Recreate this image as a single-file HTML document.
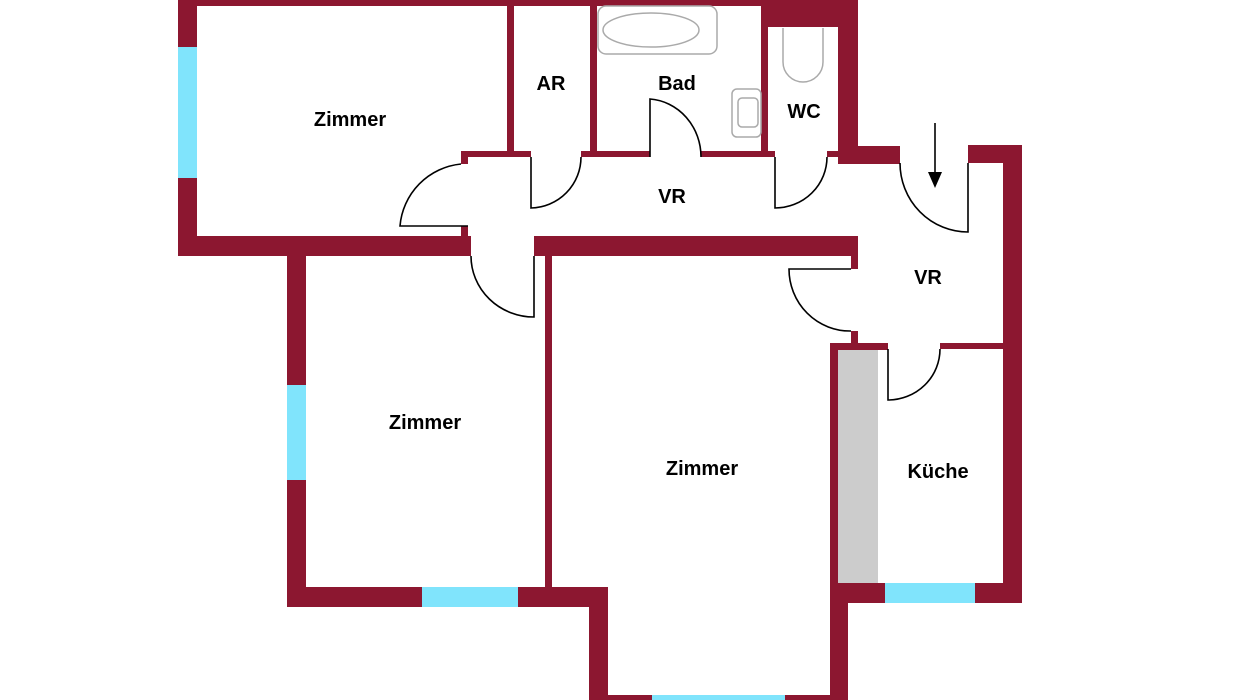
<!DOCTYPE html>
<html><head><meta charset="utf-8"><style>
html,body{margin:0;padding:0;background:#fff;}
svg{display:block;}
text{font-family:"Liberation Sans",sans-serif;font-weight:bold;font-size:20px;fill:#000;text-anchor:middle;}
</style></head><body>
<svg width="1236" height="700" viewBox="0 0 1236 700" xmlns="http://www.w3.org/2000/svg">
<g fill="#8c1730">
<!-- top -->
<rect x="178" y="0" width="680" height="6"/>
<rect x="761" y="0" width="97" height="27"/>
<rect x="838" y="0" width="20" height="164"/>
<rect x="838" y="146" width="62" height="18"/>
<!-- zimmer1 -->
<rect x="178" y="0" width="19" height="256"/>
<rect x="178" y="236" width="293" height="20"/>
<rect x="507" y="0" width="7" height="157"/>
<rect x="590" y="0" width="7" height="157"/>
<rect x="761" y="0" width="7" height="157"/>
<!-- corridor top wall -->
<rect x="461" y="151" width="70" height="6"/>
<rect x="461" y="151" width="7" height="13"/>
<rect x="461" y="226" width="7" height="12"/>
<rect x="581" y="151" width="69" height="6"/>
<rect x="701" y="151" width="74" height="6"/>
<rect x="827" y="151" width="13" height="6"/>
<!-- mid wall -->
<rect x="534" y="236" width="324" height="20"/>
<rect x="851" y="236" width="7" height="33"/>
<rect x="851" y="331" width="7" height="14"/>
<!-- right -->
<rect x="968" y="145" width="54" height="18"/>
<rect x="1003" y="145" width="19" height="458"/>
<!-- zimmer2 -->
<rect x="287" y="256" width="19" height="351"/>
<rect x="287" y="587" width="321" height="20"/>
<rect x="545" y="256" width="7" height="333"/>
<rect x="589" y="587" width="19" height="113"/>
<rect x="589" y="695" width="259" height="5"/>
<!-- kitchen -->
<rect x="830" y="343" width="58" height="7"/>
<rect x="940" y="343" width="63" height="6"/>
<rect x="830" y="343" width="8" height="260"/>
<rect x="830" y="583" width="18" height="117"/>
<rect x="830" y="583" width="192" height="20"/>
</g>
<g fill="#80e4fc">
<rect x="178" y="47" width="19" height="131"/>
<rect x="287" y="385" width="19" height="95"/>
<rect x="422" y="587" width="96" height="20"/>
<rect x="652" y="695" width="133" height="5"/>
<rect x="885" y="583" width="90" height="20"/>
</g>
<rect x="838" y="350" width="40" height="233" fill="#cccccc"/>
<!-- fixtures -->
<g fill="none" stroke="#aaa" stroke-width="1.5">
<rect x="598" y="6" width="119" height="48" rx="8"/>
<ellipse cx="651" cy="30" rx="48" ry="17"/>
<rect x="732" y="89" width="29" height="48" rx="5"/>
<rect x="738" y="98" width="20" height="29" rx="4"/>
<path d="M783 28 V62 A20 20 0 0 0 823 62 V28"/>
</g>
<!-- doors -->
<g fill="none" stroke="#000" stroke-width="1.6">
<path d="M468 226 H400 A68 68 0 0 1 461 164"/>
<path d="M531 157 V208 A51 51 0 0 0 581 157"/>
<path d="M650 157 V99 A55 58 0 0 1 701 157"/>
<path d="M775 157 V208 A52 51 0 0 0 827 157"/>
<path d="M968 163 V232 A68 69 0 0 1 900 163"/>
<path d="M534 256 V317 A63 61 0 0 1 471 256"/>
<path d="M851 269 H789 A61 62 0 0 0 851 331"/>
<path d="M888 349 V400 A52 51 0 0 0 940 349"/>
<line x1="935" y1="123" x2="935" y2="176"/>
</g>
<polygon points="928,172 942,172 935,188" fill="#000"/>
<text x="350" y="126">Zimmer</text>
<text x="551" y="90">AR</text>
<text x="677" y="90">Bad</text>
<text x="804" y="118">WC</text>
<text x="672" y="203">VR</text>
<text x="928" y="284">VR</text>
<text x="425" y="429">Zimmer</text>
<text x="702" y="475">Zimmer</text>
<text x="938" y="478">Küche</text>
</svg>
</body></html>
